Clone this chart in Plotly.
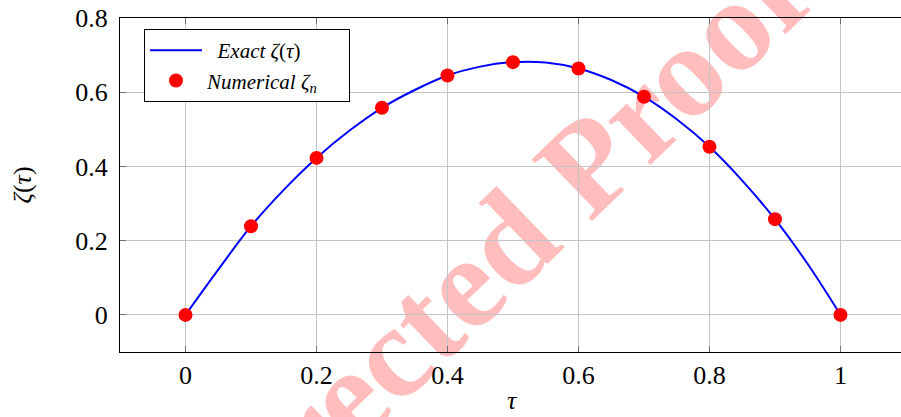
import plotly.graph_objects as go

# Exact solution
tau_exact = [0.0, 0.05, 0.1, 0.15, 0.2, 0.25, 0.3, 0.35, 0.4, 0.45, 0.5,
             0.55, 0.6, 0.65, 0.7, 0.75, 0.8, 0.85, 0.9, 0.95, 1.0]
zeta_exact = [0.0, 0.122, 0.239, 0.337, 0.423, 0.496, 0.558, 0.606, 0.645, 0.669, 0.681,
              0.680, 0.664, 0.633, 0.588, 0.527, 0.453, 0.362, 0.258, 0.137, 0.0]

# Numerical solution
tau_num = [0.0, 0.1, 0.2, 0.3, 0.4, 0.5, 0.6, 0.7, 0.8, 0.9, 1.0]
zeta_num = [0.0, 0.239, 0.423, 0.558, 0.645, 0.681, 0.664, 0.588, 0.453, 0.258, 0.0]

x_ticks = [0, 0.2, 0.4, 0.6, 0.8, 1.0]
x_ticktext = ["0", "0.2", "0.4", "0.6", "0.8", "1"]
y_ticks = [0, 0.2, 0.4, 0.6, 0.8]
y_ticktext = ["0", "0.2", "0.4", "0.6", "0.8"]

serif = "'Liberation Serif', 'Times New Roman', Times, serif"
NB = "\u00a0"

fig = go.Figure()
fig.add_trace(go.Scatter(
    x=tau_exact, y=zeta_exact, mode="lines", line=dict(color="#0000ff", width=2, shape="spline"),
    name=NB * 2 + "<i>Exact ζ</i>(<i>τ</i>)"))
fig.add_trace(go.Scatter(
    x=tau_num, y=zeta_num, mode="markers", marker=dict(color="#ff0000", size=14),
    name="<i>Numerical ζ<sub>n</sub></i>" + NB * 5))

# watermark
fig.add_shape(type="line", xref="paper", yref="paper", x0=0.236, y0=0.0, x1=0.596, y1=0.42,
              line=dict(width=0, color="rgba(0,0,0,0)"), layer="below",
              label=dict(text="Corrected Proof", textangle=-44, textposition="middle",
                         yanchor="middle",
                         font=dict(family=serif, size=132, color="rgba(255,0,0,0.26)", weight="bold")))

fig.add_annotation(text="<i>τ</i>", xref="paper", yref="paper", x=0.503, y=-0.145,
                   showarrow=False, font=dict(family=serif, size=26, color="black"),
                   xanchor="center", yanchor="middle")
fig.add_annotation(text="<i>ζ</i>(<i>τ</i>)", xref="paper", yref="paper", x=-0.126, y=0.5,
                   showarrow=False, textangle=-90, font=dict(family=serif, size=26, color="black"),
                   xanchor="center", yanchor="middle")

axis_common = dict(showgrid=True, gridcolor="#c4c4c4", gridwidth=1, zeroline=False,
                   showline=True, linecolor="black", linewidth=1,
                   ticks="inside", ticklen=6, tickcolor="#707070", tickwidth=1,
                   tickfont=dict(family=serif, size=26, color="black"))

fig.update_xaxes(range=[-0.1, 1.0924], tickvals=x_ticks, ticktext=x_ticktext, mirror="ticks",
                 **axis_common)
fig.update_yaxes(range=[-0.1, 0.8], tickvals=y_ticks, ticktext=y_ticktext, mirror=False,
                 ticklabelstandoff=6, **axis_common)

fig.update_layout(
    width=901, height=417, autosize=False,
    margin=dict(l=120, r=0, t=18, b=65),
    paper_bgcolor="white", plot_bgcolor="rgba(0,0,0,0)",
    font=dict(family=serif),
    showlegend=True,
    legend=dict(x=0.0307, y=0.967, xanchor="left", yanchor="top",
                bgcolor="white", bordercolor="black", borderwidth=1,
                font=dict(family=serif, size=21, color="black"), itemwidth=52),
)

fig.write_html("out.html")
